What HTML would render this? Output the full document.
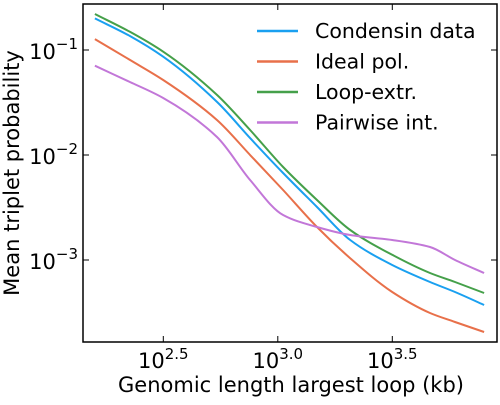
<!DOCTYPE html>
<html><head><meta charset="utf-8"><style>
body{margin:0;background:#fff;}
svg{font-family:"DejaVu Sans","Liberation Sans",sans-serif;}
</style></head><body>
<svg id="chart" width="500" height="400" xmlns="http://www.w3.org/2000/svg">
<rect width="500" height="400" fill="#fff"/>
<g id="marks"></g>
<rect x="83" y="4" width="414" height="338" fill="none" stroke="#000" stroke-width="1.5"/>
<g id="axes"></g>
<text x="291" y="392" font-size="21" text-anchor="middle">Genomic length largest loop (kb)</text>
<text transform="translate(19,173) rotate(-90)" font-size="21" text-anchor="middle">Mean triplet probability</text>
<g id="legend"></g>
</svg>
<script>
const xKb = [159, 226, 316, 543, 757, 1055, 1483, 2070, 3160, 4620, 5940, 7960];
const condensin = [0.200, 0.136, 0.0863, 0.0320, 0.0145, 0.00674, 0.00320, 0.00155, 0.000896, 0.000617, 0.000496, 0.000373];
const idealPol = [0.127, 0.0804, 0.0518, 0.0215, 0.0100, 0.00464, 0.00206, 0.00104, 0.000496, 0.000313, 0.000257, 0.000206];
const loopExtr = [0.220, 0.149, 0.0964, 0.0373, 0.0173, 0.00769, 0.00373, 0.00193, 0.00112, 0.000752, 0.000617, 0.000485];
const pairwise = [0.0708, 0.0496, 0.0349, 0.0148, 0.00578, 0.00268, 0.00206, 0.00173, 0.00155, 0.00133, 0.00100, 0.000752];
const seriesNames = ["Condensin data", "Ideal pol.", "Loop-extr.", "Pairwise int."];
const seriesColors = ["#1aa0f0", "#e8704a", "#45a04a", "#c277d8"];
const xTickExps = [2.5, 3.0, 3.5];
const yTickExps = [-1, -2, -3];

const NS = "http://www.w3.org/2000/svg";
function xPos(v){ return 163.3 + (Math.log10(v) - 2.5) * 229; }
function yPos(v){ return 50 + (-1 - Math.log10(v)) * 105; }
function mk(tag, attrs){ const e = document.createElementNS(NS, tag); for (const k in attrs) e.setAttribute(k, attrs[k]); return e; }
function monoPath(p){
  const n = p.length, dx = [], s = [], m = [];
  for (let i = 0; i < n - 1; i++) { dx[i] = p[i+1][0] - p[i][0]; s[i] = (p[i+1][1] - p[i][1]) / dx[i]; }
  m[0] = s[0]; m[n-1] = s[n-2];
  for (let i = 1; i < n - 1; i++) {
    if (s[i-1] * s[i] <= 0) m[i] = 0;
    else { const w1 = 2*dx[i] + dx[i-1], w2 = dx[i] + 2*dx[i-1]; m[i] = (w1 + w2) / (w1 / s[i-1] + w2 / s[i]); }
  }
  let d = "M" + p[0][0].toFixed(1) + "," + p[0][1].toFixed(1);
  for (let i = 0; i < n - 1; i++) {
    const h = dx[i] / 3;
    d += " C" + (p[i][0] + h).toFixed(1) + "," + (p[i][1] + m[i]*h).toFixed(1) + " " + (p[i+1][0] - h).toFixed(1) + "," + (p[i+1][1] - m[i+1]*h).toFixed(1) + " " + p[i+1][0].toFixed(1) + "," + p[i+1][1].toFixed(1);
  }
  return d;
}

const marks = document.getElementById("marks");
const all = [condensin, idealPol, loopExtr, pairwise];
all.forEach((arr, i) => {
  const pts = arr.map((v, j) => [xPos(xKb[j]), yPos(v)]);
  const pl = mk("path", {d: monoPath(pts), fill: "none", stroke: seriesColors[i], "stroke-width": 2, "stroke-linejoin": "round"});
  
  
  marks.appendChild(pl);
});

const axes = document.getElementById("axes");
xTickExps.forEach(e => {
  const x = xPos(Math.pow(10, e));
  const t = mk("line", {x1: x, x2: x, y1: 342, y2: 336, stroke: "#000"});
  
  
  axes.appendChild(t);
  const t2 = mk("line", {x1: x, x2: x, y1: 4, y2: 10, stroke: "#000"});
  
  
  axes.appendChild(t2);
  const lbl = mk("text", {x: x, y: 368, "font-size": 21, "text-anchor": "middle"});
  lbl.innerHTML = '10<tspan dy="-9" font-size="15">' + e.toFixed(1) + '</tspan>';
  
  
  axes.appendChild(lbl);
});
yTickExps.forEach(e => {
  const y = yPos(Math.pow(10, e));
  const t = mk("line", {x1: 83, x2: 89, y1: y, y2: y, stroke: "#000"});
  
  
  axes.appendChild(t);
  const t2 = mk("line", {x1: 497, x2: 491, y1: y, y2: y, stroke: "#000"});
  
  
  axes.appendChild(t2);
  const lbl = mk("text", {x: 78, y: y + 9, "font-size": 21, "text-anchor": "end"});
  lbl.innerHTML = '10<tspan dy="-10" font-size="15">\u2212' + Math.abs(e) + '</tspan>';
  
  
  axes.appendChild(lbl);
});

const legend = document.getElementById("legend");
seriesNames.forEach((n, i) => {
  const y = 31 + i * 30.5;
  const g = mk("g", {});
  
  
  g.appendChild(mk("line", {x1: 257, x2: 298, y1: y, y2: y, stroke: seriesColors[i], "stroke-width": 2.5}));
  const t = mk("text", {x: 315, y: y + 7, "font-size": 20.5});
  t.textContent = n;
  g.appendChild(t);
  legend.appendChild(g);
});
</script>
</body></html>
